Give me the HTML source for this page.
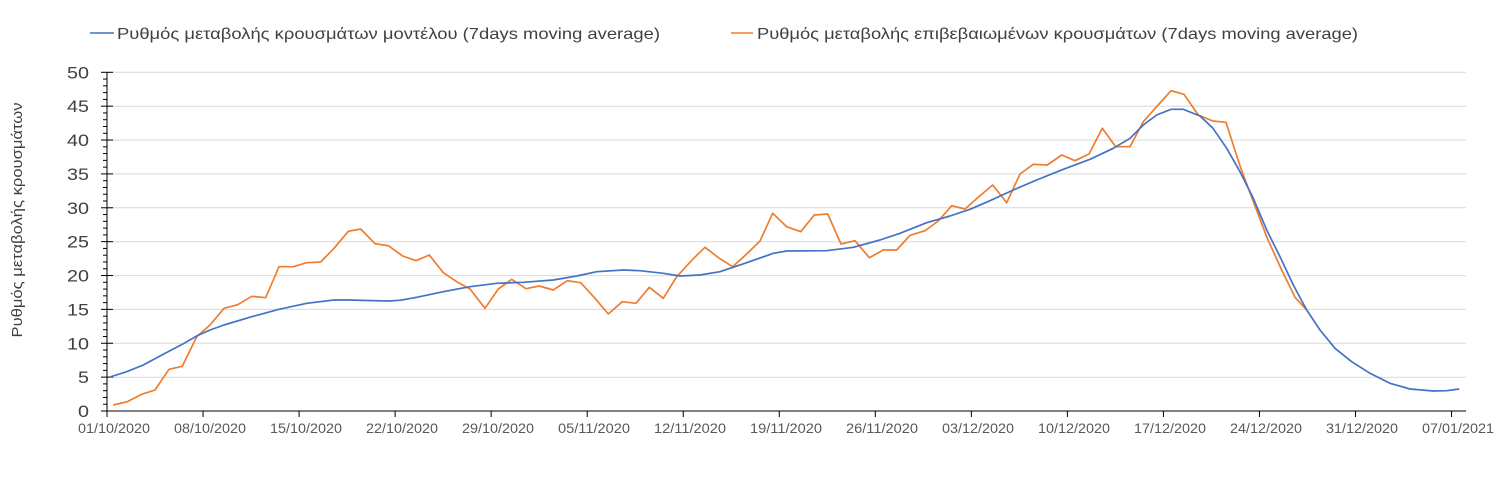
<!DOCTYPE html>
<html>
<head>
<meta charset="utf-8">
<style>
html,body{margin:0;padding:0;background:#fff;}
svg{display:block;}
text{font-family:"Liberation Sans","DejaVu Sans",sans-serif;}
</style>
</head>
<body>
<svg width="1503" height="491" viewBox="0 0 1503 491" xmlns="http://www.w3.org/2000/svg">
<rect width="1503" height="491" fill="#fff"/>

<!-- Legend -->
<line x1="90" y1="33" x2="114" y2="33" stroke="#4472C4" stroke-width="1.6"/>
<text x="117" y="39" font-size="16" fill="#404040" textLength="543" lengthAdjust="spacingAndGlyphs">Ρυθμός μεταβολής κρουσμάτων μοντέλου (7days moving average)</text>
<line x1="731" y1="33" x2="753" y2="33" stroke="#ED7D31" stroke-width="1.6"/>
<text x="757" y="39" font-size="16" fill="#404040" textLength="601" lengthAdjust="spacingAndGlyphs">Ρυθμός μεταβολής επιβεβαιωμένων κρουσμάτων (7days moving average)</text>

<!-- Y axis title -->
<text transform="translate(22,220) rotate(-90)" text-anchor="middle" font-size="15" fill="#404040" textLength="235" lengthAdjust="spacingAndGlyphs">Ρυθμός μεταβολής κρουσμάτων</text>

<!-- Gridlines -->
<g stroke="#d9d9d9" stroke-width="1">
<line x1="107" y1="72.3" x2="1466" y2="72.3"/>
<line x1="107" y1="106.2" x2="1466" y2="106.2"/>
<line x1="107" y1="140.1" x2="1466" y2="140.1"/>
<line x1="107" y1="173.9" x2="1466" y2="173.9"/>
<line x1="107" y1="207.8" x2="1466" y2="207.8"/>
<line x1="107" y1="241.7" x2="1466" y2="241.7"/>
<line x1="107" y1="275.6" x2="1466" y2="275.6"/>
<line x1="107" y1="309.4" x2="1466" y2="309.4"/>
<line x1="107" y1="343.3" x2="1466" y2="343.3"/>
<line x1="107" y1="377.2" x2="1466" y2="377.2"/>
</g>

<!-- Y axis -->
<g stroke="#000" stroke-width="1">
<line x1="107" y1="72" x2="107" y2="411"/>
<line x1="107" y1="411" x2="1466" y2="411"/>
</g>
<!-- y ticks minor -->
<g stroke="#000" stroke-width="1" id="minor"></g>
<script>
(function(){
 var ns="http://www.w3.org/2000/svg";
 var g=document.getElementById('minor');
 for(var v=0; v<=50; v++){
  var y=411-v*6.774;
  var l=document.createElementNS(ns,'line');
  if(v%5==0){l.setAttribute('x1',101);l.setAttribute('x2',113);}
  else{l.setAttribute('x1',103);l.setAttribute('x2',107);}
  l.setAttribute('y1',y);l.setAttribute('y2',y);
  g.appendChild(l);
 }
 for(var k=0;k<=14;k++){
  var x=107+96.04*k;
  var l2=document.createElementNS(ns,'line');
  l2.setAttribute('x1',x);l2.setAttribute('x2',x);
  l2.setAttribute('y1',411);l2.setAttribute('y2',417);
  g.appendChild(l2);
 }
})();
</script>

<!-- Y labels -->
<g font-size="17" fill="#404040" text-anchor="end">
<text x="89" y="78.3" textLength="22" lengthAdjust="spacingAndGlyphs">50</text>
<text x="89" y="112.2" textLength="22" lengthAdjust="spacingAndGlyphs">45</text>
<text x="89" y="146.1" textLength="22" lengthAdjust="spacingAndGlyphs">40</text>
<text x="89" y="179.9" textLength="22" lengthAdjust="spacingAndGlyphs">35</text>
<text x="89" y="213.8" textLength="22" lengthAdjust="spacingAndGlyphs">30</text>
<text x="89" y="247.7" textLength="22" lengthAdjust="spacingAndGlyphs">25</text>
<text x="89" y="281.6" textLength="22" lengthAdjust="spacingAndGlyphs">20</text>
<text x="89" y="315.4" textLength="22" lengthAdjust="spacingAndGlyphs">15</text>
<text x="89" y="349.3" textLength="22" lengthAdjust="spacingAndGlyphs">10</text>
<text x="89" y="383.2" textLength="11" lengthAdjust="spacingAndGlyphs">5</text>
<text x="89" y="417" textLength="11" lengthAdjust="spacingAndGlyphs">0</text>
</g>

<!-- X labels -->
<g font-size="14" fill="#595959" text-anchor="middle">
<text x="114" y="433" textLength="72" lengthAdjust="spacingAndGlyphs">01/10/2020</text>
<text x="210" y="433" textLength="72" lengthAdjust="spacingAndGlyphs">08/10/2020</text>
<text x="306" y="433" textLength="72" lengthAdjust="spacingAndGlyphs">15/10/2020</text>
<text x="402" y="433" textLength="72" lengthAdjust="spacingAndGlyphs">22/10/2020</text>
<text x="498" y="433" textLength="72" lengthAdjust="spacingAndGlyphs">29/10/2020</text>
<text x="594" y="433" textLength="72" lengthAdjust="spacingAndGlyphs">05/11/2020</text>
<text x="690" y="433" textLength="72" lengthAdjust="spacingAndGlyphs">12/11/2020</text>
<text x="786" y="433" textLength="72" lengthAdjust="spacingAndGlyphs">19/11/2020</text>
<text x="882" y="433" textLength="72" lengthAdjust="spacingAndGlyphs">26/11/2020</text>
<text x="978" y="433" textLength="72" lengthAdjust="spacingAndGlyphs">03/12/2020</text>
<text x="1074" y="433" textLength="72" lengthAdjust="spacingAndGlyphs">10/12/2020</text>
<text x="1170" y="433" textLength="72" lengthAdjust="spacingAndGlyphs">17/12/2020</text>
<text x="1266" y="433" textLength="72" lengthAdjust="spacingAndGlyphs">24/12/2020</text>
<text x="1362" y="433" textLength="72" lengthAdjust="spacingAndGlyphs">31/12/2020</text>
<text x="1458" y="433" textLength="72" lengthAdjust="spacingAndGlyphs">07/01/2021</text>
</g>

<!-- Orange series -->
<polyline fill="none" stroke="#ED7D31" stroke-width="1.7" stroke-linejoin="round" points="
113.3,405 127.3,401.7 141.7,394.3 155,390 169,369.3 182.3,366.3 196.7,336.7 210,325 224,308.3 237.7,304.7
251.7,296.3 265.7,297.7 279,266.7 293.3,266.7 306.7,262.7 320.7,262 334,248.3 348.3,231.3 360.7,229 375,243.7
388.3,245.7 402.7,256 416,260.7 429.3,255 443.3,272.7 456.7,281.7 470,289 485,308.3 498.3,289 511.7,279.3
526,288.7 539.3,286 553.3,290 567.3,280.7 580.7,282.7 595,298.3 608.3,314 622.3,301.7 636,303.3 649.3,287.3
663.3,298.3 676.7,276.7 692.7,259.3 705,247.3 719.3,258.3 732.7,266.7 746.7,254 760,241 772.7,213.3 786.7,226.7
800.7,231.7 814.3,215 827.7,214 841,244 855,240.7 869.3,257.7 883.3,250 896.7,250 910,235.3 925,230.7
938.3,221 951.7,205.7 965,209 978.5,197 992.7,185 1006.7,202.7 1020,174 1033.3,164.3 1047.3,165 1061.7,155
1075,160.7 1089,154 1102.3,128.3 1115.7,146.7 1130,146.7 1143.3,121.7 1157.3,106 1171,90.7 1184,94.3 1198.3,115
1212.7,121 1226,122.3 1240,166 1254,203.3 1267.3,238.3 1281.7,270 1295,297.3 1306.7,310"/>

<!-- Blue series -->
<polyline fill="none" stroke="#4472C4" stroke-width="1.7" stroke-linejoin="round" points="
110,377 126.7,371.7 143.3,365 160,356 182.3,344.3 196.7,336 210,330 224,325 251.7,316.7 279,309.3
306.7,303.3 334,300 348,300 388.3,301 400,300.3 416.7,297.3 443.3,291.7 470,286.7 496.7,283.3 523.3,282.3
553.3,280 576.7,276 596.7,271.7 623.3,270 640,270.7 663.3,273.3 680,276 700,275 720,271.7 746.7,262.7
773.3,253.3 786.7,251 826.7,250.7 853.3,247.3 880,240 900,233.3 926.7,222.7 950,216 970,209.3 990,200.7
1013.3,190 1036.7,180 1063.3,169.3 1090,159.3 1113.3,148.3 1130,138.3 1143.3,125 1156.7,115 1171,109.3 1183.3,109.3
1200,116 1213,128.3 1226.7,148.3 1240,171.7 1253.3,198.3 1266.7,230 1280,256.7 1293.3,285 1306.7,310 1320,330
1335,348.3 1351.7,361.7 1370,373.3 1390,383.3 1410,389 1433.3,391 1446.7,390.7 1459.3,389"/>
</svg>
</body>
</html>
